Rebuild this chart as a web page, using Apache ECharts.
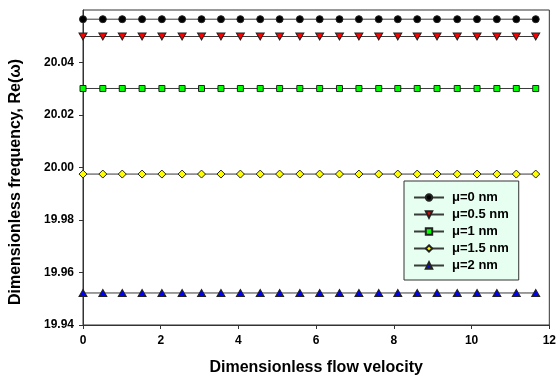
<!DOCTYPE html>
<html>
<head>
<meta charset="utf-8">
<script src="https://cdn.jsdelivr.net/npm/echarts@6/dist/echarts.min.js"></script>
<style>
    html, body { margin: 0; padding: 0; background: #fff; }
    #chart { width: 559px; height: 381px; }
</style>
</head>
<body>
<div id="chart"></div>
<script>
// flow velocity values
const xValues = [0, 0.51, 1.01, 1.52, 2.03, 2.55, 3.05, 3.55, 4.05, 4.56, 5.06, 5.58,
    6.09, 6.60, 7.10, 7.61, 8.10, 8.60, 9.11, 9.63, 10.14, 10.65, 11.15, 11.65];
const seriesNames = ['μ=0 nm', 'μ=0.5 nm', 'μ=1 nm', 'μ=1.5 nm', 'μ=2 nm'];
const mu0 = [20.0565, 20.0565, 20.0565, 20.0565, 20.0565, 20.0565, 20.0565, 20.0565,
    20.0565, 20.0565, 20.0565, 20.0565, 20.0565, 20.0565, 20.0565, 20.0565,
    20.0565, 20.0565, 20.0565, 20.0565, 20.0565, 20.0565, 20.0565, 20.0565];
const mu05 = [20.0499, 20.0499, 20.0499, 20.0499, 20.0499, 20.0499, 20.0499, 20.0499,
    20.0499, 20.0499, 20.0499, 20.0499, 20.0499, 20.0499, 20.0499, 20.0499,
    20.0499, 20.0499, 20.0499, 20.0499, 20.0499, 20.0499, 20.0499, 20.0499];
const mu1 = [20.0301, 20.0301, 20.0301, 20.0301, 20.0301, 20.0301, 20.0301, 20.0301,
    20.0301, 20.0301, 20.0301, 20.0301, 20.0301, 20.0301, 20.0301, 20.0301,
    20.0301, 20.0301, 20.0301, 20.0301, 20.0301, 20.0301, 20.0301, 20.0301];
const mu15 = [19.9975, 19.9975, 19.9975, 19.9975, 19.9975, 19.9975, 19.9975, 19.9975,
    19.9975, 19.9975, 19.9975, 19.9975, 19.9975, 19.9975, 19.9975, 19.9975,
    19.9975, 19.9975, 19.9975, 19.9975, 19.9975, 19.9975, 19.9975, 19.9975];
const mu2 = [19.9522, 19.9522, 19.9522, 19.9522, 19.9522, 19.9522, 19.9522, 19.9522,
    19.9522, 19.9522, 19.9522, 19.9522, 19.9522, 19.9522, 19.9522, 19.9522,
    19.9522, 19.9522, 19.9522, 19.9522, 19.9522, 19.9522, 19.9522, 19.9522];
const xTicks = [0, 2, 4, 6, 8, 10, 12];
const yTicks = [19.94, 19.96, 19.98, 20.00, 20.02, 20.04, 20.06];

const allData = [mu0, mu05, mu1, mu15, mu2];
const symbols = ['circle', 'path://M0,0L10,0L5,9Z', 'rect', 'diamond', 'triangle'];
const symbolSizes = [7, [8, 7], 6, 8, [8, 7]];
const fills = ['#000000', '#ff0000', '#00ff00', '#ffff00', '#0000ff'];

const myChart = echarts.init(document.getElementById('chart'));

const series = allData.map((vals, i) => ({
    name: seriesNames[i],
    type: 'line',
    data: vals.map((v, j) => [xValues[j], v]),
    symbol: symbols[i],
    symbolSize: symbolSizes[i],
    showAllSymbol: true,
    lineStyle: { color: '#3a3a3a', width: 1 },
    itemStyle: { color: fills[i], borderColor: '#222', borderWidth: 1 },
    emphasis: { disabled: true },
    animation: false
}));

const option = {
    animation: false,
    textStyle: { fontFamily: 'Liberation Sans, Arial, sans-serif' },
    grid: {
        left: 82,
        right: 6,
        top: 10,
        bottom: 53,
        show: true,
        borderColor: '#333',
        borderWidth: 1
    },
    legend: {
        orient: 'vertical',
        left: 404,
        top: 181,
        padding: [10, 10, 8, 9],
        itemGap: 4,
        itemWidth: 30,
        itemHeight: 8,
        backgroundColor: '#e6fff0',
        borderColor: '#333',
        borderWidth: 1,
        borderRadius: 0,
        textStyle: {
            fontSize: 13,
            fontWeight: 'bold',
            color: '#000',
            padding: [0, 0, 0, 3]
        },
        data: seriesNames
    },
    xAxis: {
        type: 'value',
        min: xTicks[0],
        max: xTicks[xTicks.length - 1],
        interval: 2,
        name: 'Dimensionless flow velocity',
        nameLocation: 'middle',
        nameGap: 35,
        nameTextStyle: { fontSize: 16, fontWeight: 'bold', color: '#000' },
        axisLine: { lineStyle: { color: '#333' } },
        axisTick: { show: true, length: 4, inside: false, lineStyle: { color: '#333' } },
        axisLabel: { fontSize: 12, fontWeight: 'bold', color: '#000', margin: 10 },
        splitLine: { show: false }
    },
    yAxis: {
        type: 'value',
        min: yTicks[0],
        max: yTicks[yTicks.length - 1],
        interval: 0.02,
        name: 'Dimensionless frequency, Re(ω)',
        nameLocation: 'middle',
        nameGap: 59,
        nameTextStyle: {
            fontSize: 16, fontWeight: 'bold', color: '#000',
            padding: [0, 29, 0, 0]
        },
        axisLine: { lineStyle: { color: '#333' } },
        axisTick: { show: true, length: 4, inside: false, lineStyle: { color: '#333' } },
        axisLabel: {
            fontSize: 12, fontWeight: 'bold', color: '#000', margin: 9,
            showMaxLabel: false,
            formatter: v => v.toFixed(2)
        },
        splitLine: { show: false }
    },
    series: series
};

myChart.setOption(option);
</script>
</body>
</html>
